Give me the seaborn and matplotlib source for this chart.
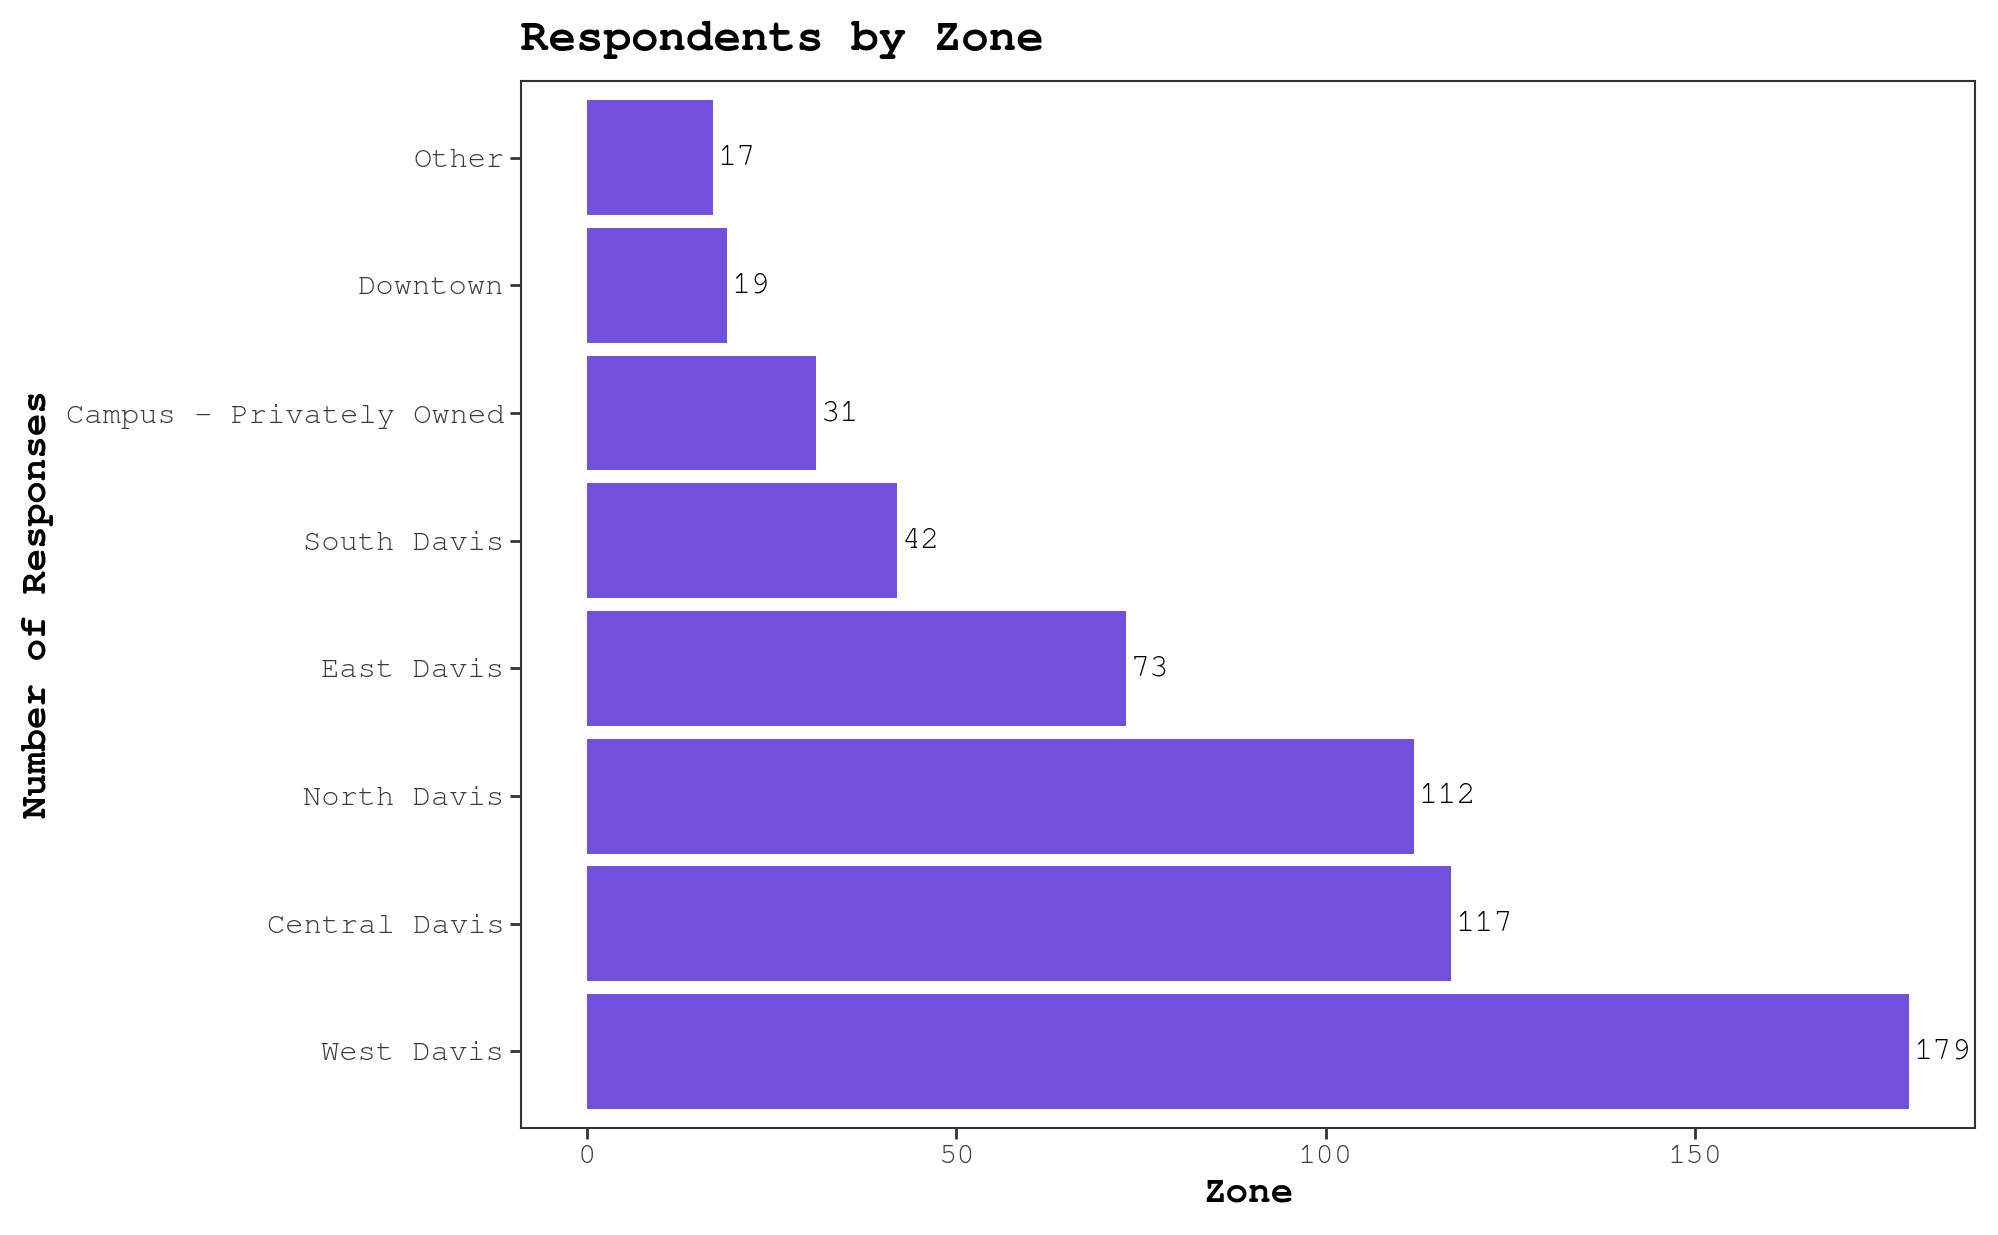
import matplotlib
matplotlib.use("Agg")
import matplotlib.pyplot as plt
import seaborn as sns
import pandas as pd

zones = ["Other", "Downtown", "Campus - Privately Owned", "South Davis",
         "East Davis", "North Davis", "Central Davis", "West Davis"]
counts = [17, 19, 31, 42, 73, 112, 117, 179]
x_ticks = [0, 50, 100, 150]

title = "Respondents by Zone"
x_label = "Zone"
y_label = "Number of Responses"
bar_color = "#7351DD"

sns.set_theme(style="white")
plt.rcParams['font.family'] = ['Courier New', 'Nimbus Mono PS', 'FreeMono',
                               'Liberation Mono', 'DejaVu Sans Mono']

df = pd.DataFrame({"zone": zones, "count": counts})

fig = plt.figure(figsize=(19.99, 12.35), dpi=100)
ax = fig.add_axes([0.2606, 0.0866, 0.988 - 0.2606, 0.9344 - 0.0866])

sns.barplot(data=df, y="zone", x="count", order=zones, color=bar_color,
            saturation=1, width=0.9, linewidth=0, ax=ax)

for i, v in enumerate(counts):
    ax.text(v + 0.6, i, str(v), va="center", ha="left", fontsize=23,
            color="black")

ax.set_xlim(-8.95, 187.95)
ax.set_ylim(7.6, -0.6)
ax.set_xticks(x_ticks)
ax.set_xticklabels([str(t) for t in x_ticks])

ax.tick_params(axis="both", which="both", length=8, width=2, color="#333333",
               labelsize=22, labelcolor="#3A3A3A", pad=4,
               left=True, bottom=True)
for sp in ax.spines.values():
    sp.set_visible(True)
    sp.set_color("#333333")
    sp.set_linewidth(1.5)

ax.set_xlabel(x_label, fontsize=27, fontweight="bold", color="black", labelpad=6)
ax.set_ylabel(y_label, fontsize=27, fontweight="bold", color="black")
ax.yaxis.set_label_coords(-0.321, 0.5)
ax.set_title(title, loc="left", fontsize=33, fontweight="bold", color="black",
             pad=22)

fig.savefig("out.png", dpi=100)
